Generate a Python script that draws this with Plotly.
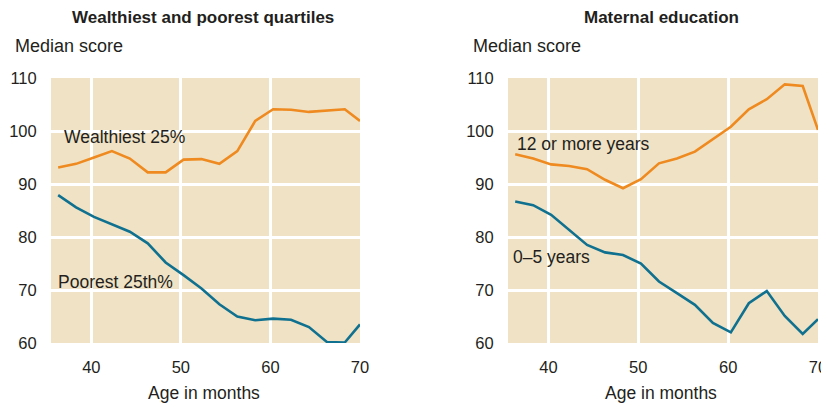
import plotly.graph_objects as go

W, H = 829, 407
OFF = 8  # page body margin offset

ages = [36.3, 38.3, 40.3, 42.3, 44.3, 46.3, 48.3, 50.3, 52.3, 54.3,
        56.3, 58.3, 60.3, 62.3, 64.3, 66.3, 68.3, 70.0]
wealthiest = [93.1, 93.8, 95.0, 96.2, 94.8, 92.2, 92.2, 94.6, 94.7, 93.8,
              96.2, 101.9, 104.1, 104.0, 103.6, 103.8, 104.1, 101.9]
poorest = [87.9, 85.6, 83.8, 82.4, 81.0, 78.8, 75.2, 72.8, 70.3, 67.3,
           65.0, 64.3, 64.6, 64.4, 63.0, 60.2, 60.1, 63.5]
edu_12plus = [95.6, 94.8, 93.7, 93.4, 92.8, 90.8, 89.2, 90.9, 93.9, 94.8,
              96.1, 98.4, 100.8, 104.1, 106.0, 108.8, 108.5, 100.2]
edu_0to5 = [86.7, 86.0, 84.2, 81.3, 78.5, 77.1, 76.6, 75.0, 71.6, 69.4,
            67.2, 63.8, 62.0, 67.5, 69.8, 65.1, 61.7, 64.5]

x_ticks = [40, 50, 60, 70]
y_ticks = [60, 70, 80, 90, 100, 110]

ORANGE = "#EE8A1F"
BLUE = "#0F718F"
BG = "#F0E2C5"
TXT = "#231F20"
FONT = "Liberation Sans, Arial, sans-serif"

def px(x):
    return (x - OFF) / W

def py(y):
    return 1 - (y - OFF) / H

fig = go.Figure()
fig.add_trace(go.Scatter(x=ages, y=wealthiest, mode="lines", line=dict(color=ORANGE, width=2.6),
                         xaxis="x", yaxis="y", showlegend=False))
fig.add_trace(go.Scatter(x=ages, y=poorest, mode="lines", line=dict(color=BLUE, width=2.6),
                         xaxis="x", yaxis="y", showlegend=False))
fig.add_trace(go.Scatter(x=ages, y=edu_12plus, mode="lines", line=dict(color=ORANGE, width=2.6),
                         xaxis="x2", yaxis="y2", showlegend=False))
fig.add_trace(go.Scatter(x=ages, y=edu_0to5, mode="lines", line=dict(color=BLUE, width=2.6),
                         xaxis="x2", yaxis="y2", showlegend=False))

ydom = [py(343), py(78)]
xcommon = dict(range=[35.5, 70], tickvals=x_ticks, showgrid=True, gridcolor="white", gridwidth=2.5,
               zeroline=False, showline=False, ticks="outside", ticklen=9, tickcolor="rgba(0,0,0,0)",
               automargin=False,
               tickfont=dict(family=FONT, size=16.5, color=TXT))
ycommon = dict(range=[60, 110], tickvals=y_ticks, showgrid=True, gridcolor="white", gridwidth=2.5,
               zeroline=False, showline=False, ticks="outside", ticklen=10, tickcolor="rgba(0,0,0,0)",
               automargin=False,
               tickfont=dict(family=FONT, size=16.5, color=TXT), domain=ydom)

fig.update_layout(
    width=W, height=H,
    margin=dict(l=0, r=0, t=0, b=0, pad=0),
    paper_bgcolor="white", plot_bgcolor=BG,
    xaxis=dict(domain=[px(51), px(360)], anchor="y", **xcommon),
    yaxis=dict(anchor="x", **ycommon),
    xaxis2=dict(domain=[px(508), px(818)], anchor="y2", **xcommon),
    yaxis2=dict(anchor="x2", **ycommon),
)

def ann(text, x, y, size=17.5, bold=False, xanchor="left"):
    fig.add_annotation(text=f"<b>{text}</b>" if bold else text, x=px(x), y=py(y),
                       xref="paper", yref="paper", xanchor=xanchor, yanchor="middle",
                       showarrow=False, font=dict(family=FONT, size=size, color=TXT))

ann("Wealthiest and poorest quartiles", 203, 17, size=17, bold=True, xanchor="center")
ann("Maternal education", 661.5, 17, size=17, bold=True, xanchor="center")
ann("Median score", 13, 46, size=18)
ann("Median score", 471, 46, size=18)
ann("Age in months", 204, 393, xanchor="center")
ann("Age in months", 661, 393, xanchor="center")
ann("Wealthiest 25%", 62, 137)
ann("Poorest 25th%", 56, 282)
ann("12 or more years", 515, 144)
ann("0\u20135 years", 511, 257)

fig.write_html("out.html")
